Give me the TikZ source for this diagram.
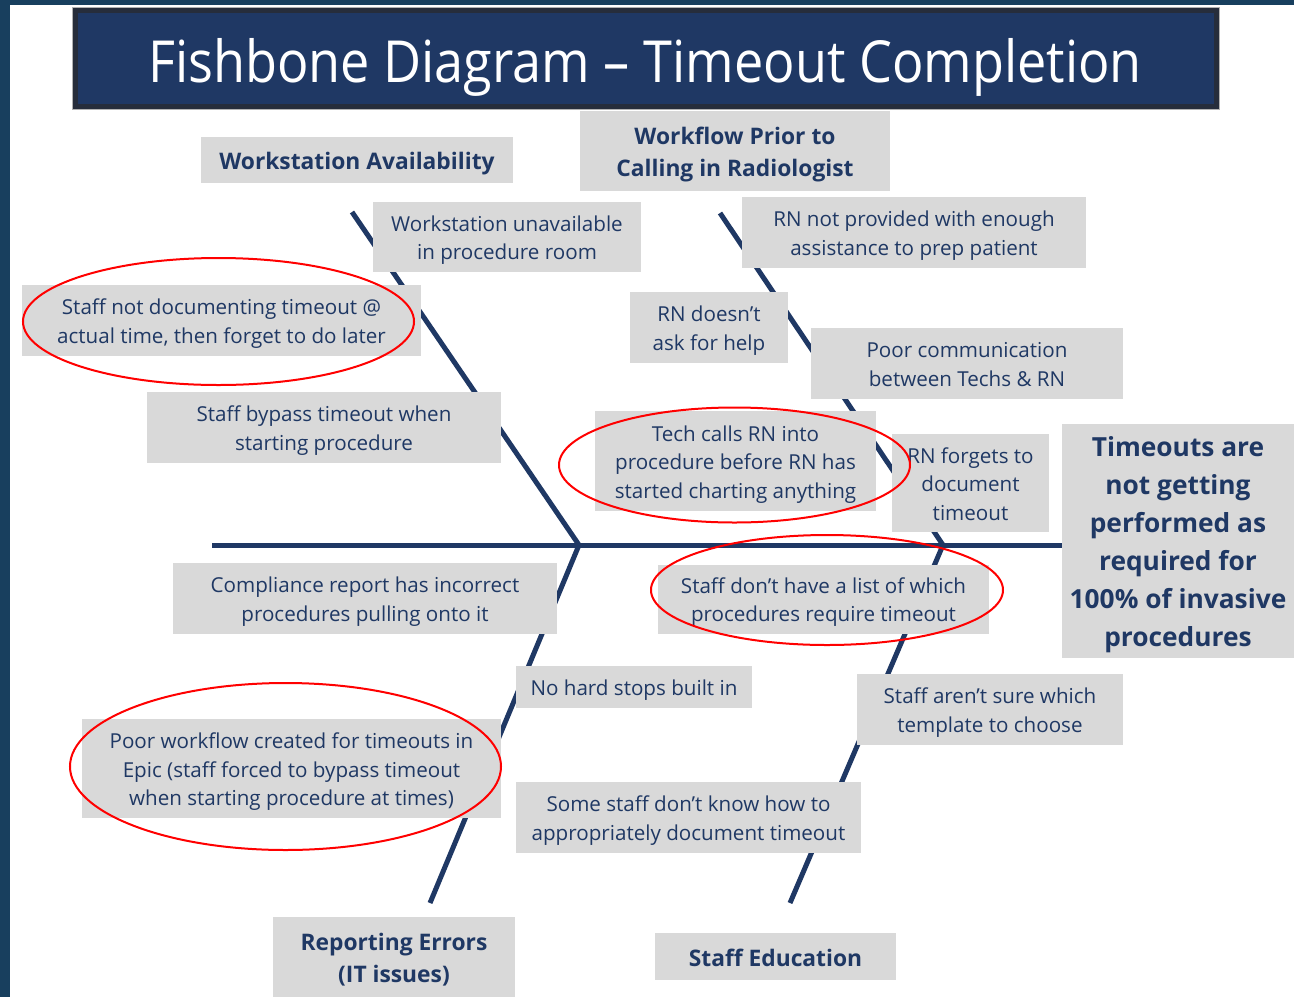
\documentclass[tikz,border=0pt]{standalone}
\usepackage{fontspec}
\setmainfont{Open Sans}
\newfontfamily\titlefam[FakeStretch=0.9]{Open Sans}
\usetikzlibrary{shapes.geometric}
\definecolor{navy}{HTML}{1F3864}
\definecolor{bonec}{HTML}{1F3864}
\definecolor{boxgray}{HTML}{D9D9D9}
\definecolor{edgec}{HTML}{183F5E}
\definecolor{titleframe}{HTML}{262D3B}
\definecolor{circlered}{HTML}{FF0000}
\newcommand{\bodyfont}{\fontsize{20.6}{28.5}\selectfont}
\newcommand{\headfont}{\fontsize{22.8}{32.5}\selectfont\bfseries}
\newcommand{\targetfont}{\fontsize{26.3}{38}\selectfont\bfseries}
\newcommand{\lines}[1]{\setlength{\tabcolsep}{0pt}\renewcommand{\arraystretch}{1}\raisebox{-3pt}[\height][\depth]{\begin{tabular}{c}#1\end{tabular}}}
\begin{document}
\begin{tikzpicture}[x=1pt,y=-1pt,
  cause/.style={fill=boxgray, text=navy, inner sep=0pt, font=\bodyfont},
  head/.style={cause, font=\headfont},
  bone/.style={draw=bonec, line width=5pt},
  ring/.style={ellipse, draw=circlered, line width=2pt, inner sep=0pt},
  titlebox/.style={fill=navy, draw=titleframe, line width=5pt, inner sep=0pt}]
\useasboundingbox (0,0) rectangle (1294,997);
\fill[white] (0,0) rectangle (1294,997);
\fill[edgec] (0,0) rectangle (9.5,997);
\fill[edgec] (0,0) rectangle (1294,4.5);
% title
\node[titlebox, minimum width=1141, minimum height=96] (title) at (645.75,58.5) {};
\draw[gray!60, line width=1pt] ([shift={(-0.5,-0.5)}]title.north west) rectangle ([shift={(0.5,0.5)}]title.south east);
\node[anchor=base, inner sep=0pt, text=white, font=\titlefam\fontsize{58}{64}\selectfont] (titletext) at (645,82) {Fishbone Diagram – Timeout Completion};
% skeleton coordinates
\coordinate (tail) at (212,545);
\coordinate (head) at (1062,545);
\coordinate (jl) at (579,545);
\coordinate (jr) at (943,545);
\coordinate (ul) at (352,212);
\coordinate (ll) at (430,903);
\coordinate (ur) at (720,213);
\coordinate (lr) at (790,903);
\draw[bone] (tail) -- (head);
\draw[bone] (ul) -- (jl) -- (ll);
\draw[bone] (ur) -- (jr) -- (lr);
% category heads
\node[head, minimum width=312, minimum height=46] (wsa) at (357,160) {\lines{Workstation Availability}};
\node[head, minimum width=310, minimum height=80] (wfp) at (735,151) {\lines{Workflow Prior to\\Calling in Radiologist}};
\node[head, minimum width=242, minimum height=80] (rei) at (394,957) {\lines{Reporting Errors\\(IT issues)}};
\node[head, minimum width=241, minimum height=47] (sed) at (775.5,956.5) {\lines{Staff Education}};
% target
\node[cause, font=\targetfont, minimum width=232, minimum height=234] (target) at (1178,541) {\lines{Timeouts are\\not getting\\performed as\\required for\\100\% of invasive\\procedures}};
% causes
\node[cause, minimum width=268, minimum height=70] (wun) at (507,237) {\lines{Workstation unavailable\\in procedure room}};
\node[cause, minimum width=344, minimum height=71] (rnp) at (914,232.5) {\lines{RN not provided with enough\\assistance to prep patient}};
\node[cause, minimum width=399, minimum height=71] (snd) at (221.5,320.5) {\lines{Staff not documenting timeout @\\actual time, then forget to do later}};
\node[cause, minimum width=158, minimum height=71] (rnd) at (709,327.5) {\lines{RN doesn’t\\ask for help}};
\node[cause, minimum width=312, minimum height=71] (pcb) at (967,363.5) {\lines{Poor communication\\between Techs \& RN}};
\node[cause, minimum width=354, minimum height=71] (sbt) at (324,427.5) {\lines{Staff bypass timeout when\\starting procedure}};
\node[cause, minimum width=281, minimum height=100] (tcr) at (735.5,461) {\lines{Tech calls RN into\\procedure before RN has\\started charting anything}};
\node[cause, minimum width=157, minimum height=98] (rnf) at (970.5,483) {\lines{RN forgets to\\document\\timeout}};
\node[cause, minimum width=384, minimum height=71] (cri) at (365,598.5) {\lines{Compliance report has incorrect\\procedures pulling onto it}};
\node[cause, minimum width=331, minimum height=69] (sdh) at (823.5,599) {\lines{Staff don’t have a list of which\\procedures require timeout}};
\node[cause, minimum width=236, minimum height=42] (nhs) at (634,687) {\lines{No hard stops built in}};
\node[cause, minimum width=266, minimum height=71] (sas) at (990,709.5) {\lines{Staff aren’t sure which\\template to choose}};
\node[cause, minimum width=419, minimum height=99] (pwc) at (291.5,768.5) {\lines{Poor workflow created for timeouts in\\Epic (staff forced to bypass timeout\\when starting procedure at times)}};
\node[cause, minimum width=345, minimum height=71] (ssd) at (688.5,817.5) {\lines{Some staff don’t know how to\\appropriately document timeout}};
% red rings
\node[ring, minimum width=391, minimum height=127] (r1) at (218.5,321.5) {};
\node[ring, minimum width=351, minimum height=115] (r2) at (734.5,465) {};
\node[ring, minimum width=352, minimum height=110] (r3) at (827,590) {};
\node[ring, minimum width=431, minimum height=167] (r4) at (285.5,766.5) {};
\end{tikzpicture}
\end{document}
